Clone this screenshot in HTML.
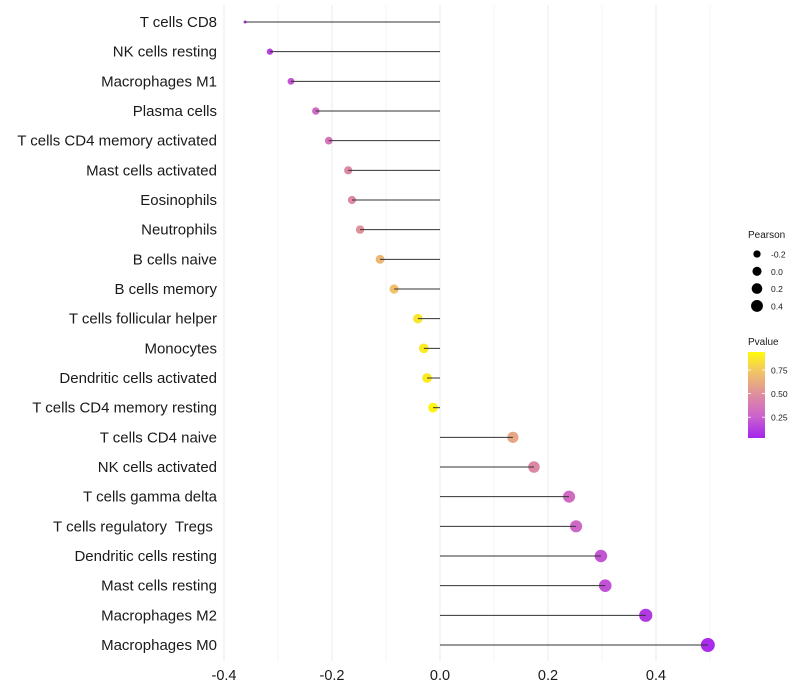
<!DOCTYPE html>
<html><head><meta charset="utf-8">
<style>
body{margin:0;background:#fff;}
svg{display:block;font-family:"Liberation Sans",sans-serif;}
text{white-space:pre;}
</style></head>
<body>
<svg id="chart" width="800" height="700" viewBox="0 0 800 700">
<defs>
<linearGradient id="pgrad" x1="0" y1="1" x2="0" y2="0">
<stop offset="0" stop-color="rgb(163,37,238)"/>
<stop offset="0.25" stop-color="rgb(204,98,204)"/>
<stop offset="0.52" stop-color="rgb(224,145,155)"/>
<stop offset="0.78" stop-color="rgb(242,198,100)"/>
<stop offset="1" stop-color="rgb(255,250,10)"/>
</linearGradient>
</defs>
<g id="grid"></g>
<g id="marks"></g>
<g id="labels"></g>
<g id="legend"></g>
</svg>
<script>
const categories = ["T cells CD8","NK cells resting","Macrophages M1","Plasma cells","T cells CD4 memory activated","Mast cells activated","Eosinophils","Neutrophils","B cells naive","B cells memory","T cells follicular helper","Monocytes","Dendritic cells activated","T cells CD4 memory resting","T cells CD4 naive","NK cells activated","T cells gamma delta","T cells regulatory  Tregs ","Dendritic cells resting","Mast cells resting","Macrophages M2","Macrophages M0"];
const pearson = [-0.361,-0.315,-0.276,-0.230,-0.206,-0.170,-0.163,-0.148,-0.111,-0.085,-0.041,-0.030,-0.024,-0.013,0.135,0.174,0.239,0.252,0.298,0.306,0.381,0.496];
const pvalue = [0.04,0.12,0.2,0.3,0.35,0.45,0.47,0.5,0.68,0.72,0.9,0.93,0.93,0.97,0.6,0.45,0.3,0.28,0.2,0.18,0.08,0.03];
const xTicks = [-0.4,-0.2,0.0,0.2,0.4];
const xTickLabels = ["-0.4","-0.2","0.0","0.2","0.4"];
const sizeLegend = [-0.2,0.0,0.2,0.4];
const sizeLegendLabels = ["-0.2","0.0","0.2","0.4"];
const colorLegend = [0.25,0.5,0.75];
const colorLegendLabels = ["0.25","0.50","0.75"];

const NS="http://www.w3.org/2000/svg";
function mk(tag,attrs,parent){const e=document.createElementNS(NS,tag);for(const k in attrs)e.setAttribute(k,attrs[k]);parent.appendChild(e);return e;}
const X=v=>440+v*540;
const Y=i=>22+i*(623/21);
const R=v=>v<-0.315?Math.max(1.2,3-(-0.315-v)*33):Math.sqrt(25+48*v);
const stops=[[0,[163,37,238]],[0.25,[204,98,204]],[0.5,[224,145,155]],[0.75,[242,198,100]],[1,[255,250,10]]];
function col(p){for(let i=0;i<stops.length-1;i++){const a=stops[i],b=stops[i+1];if(p<=b[0]){const t=(p-a[0])/(b[0]-a[0]);const c=a[1].map((v,j)=>Math.round(v+(b[1][j]-v)*t));return `rgb(${c})`;}}return "rgb(255,250,10)";}
const grid=document.getElementById('grid'),marks=document.getElementById('marks'),labels=document.getElementById('labels'),legend=document.getElementById('legend');
for(let v=-0.4;v<=0.5001;v+=0.1){
  const g=mk('line',{x1:X(v),x2:X(v),y1:5,y2:661,stroke:'#ebebeb','stroke-width':Math.abs(Math.round(v*10))%2===0?1:0.6},grid);
  
  
}
for(let i=0;i<categories.length;i++){
  const y=Y(i);
  const c=mk('circle',{cx:X(pearson[i]),cy:y,r:R(pearson[i]),fill:col(pvalue[i])},marks);
  
  
  const s=mk('line',{x1:X(0),x2:X(pearson[i]),y1:y,y2:y,stroke:'#333','stroke-width':1},marks);
  
  
  const t=mk('text',{x:217,y:y+5,'text-anchor':'end','font-size':15,fill:'#1a1a1a'},labels);
  t.textContent=categories[i];
  
  
}
for(let i=0;i<xTicks.length;i++){
  const t=mk('text',{x:X(xTicks[i]),y:680,'text-anchor':'middle','font-size':14.5,fill:'#1a1a1a'},labels);
  t.textContent=xTickLabels[i];
  
  
}
let t=mk('text',{x:748,y:238,'font-size':10,fill:'#1a1a1a'},legend);
t.textContent='Pearson';


for(let i=0;i<sizeLegend.length;i++){
  const y=254+i*17.3;
  const c=mk('circle',{cx:757,cy:y,r:R(sizeLegend[i])*0.85+0.3,fill:'#000'},legend);
  
  
  const l=mk('text',{x:771,y:y+3.5,'font-size':8.5,fill:'#1a1a1a'},legend);
  l.textContent=sizeLegendLabels[i];
  
  
}
t=mk('text',{x:748,y:345,'font-size':10,fill:'#1a1a1a'},legend);
t.textContent='Pvalue';


const bar=mk('rect',{x:748,y:352,width:17,height:86,fill:'url(#pgrad)'},legend);


const PY=p=>438-(p-0.03)/(0.94-0.03)*86;
for(let i=0;i<colorLegend.length;i++){
  const y=PY(colorLegend[i]);
  mk('line',{x1:748,x2:751,y1:y,y2:y,stroke:'#fff','stroke-width':0.8},legend);
  mk('line',{x1:762,x2:765,y1:y,y2:y,stroke:'#fff','stroke-width':0.8},legend);
  const l=mk('text',{x:771,y:y+3.5,'font-size':8.5,fill:'#1a1a1a'},legend);
  l.textContent=colorLegendLabels[i];
  
  
}
</script>
</body></html>
